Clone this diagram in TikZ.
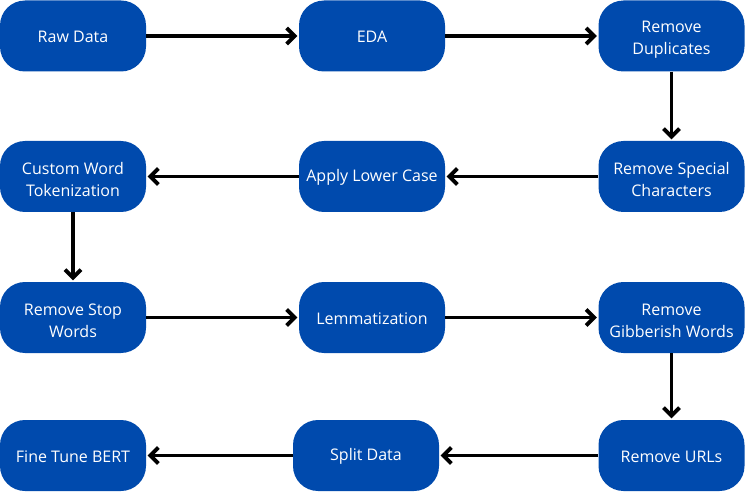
\documentclass[tikz,border=0pt]{standalone}
\usepackage{fontspec}
\setmainfont{Open Sans}
\usetikzlibrary{arrows.meta}
\definecolor{boxblue}{RGB}{0,74,173}
\newcommand\firstlinestrut{\rule{0pt}{19pt}}
\tikzset{
  stepbox/.style={draw=none, fill=boxblue, rounded corners=25pt, minimum width=146pt, minimum height=71pt,
    text=white, align=center, font=\fontsize{16pt}{22pt}\selectfont, inner sep=2pt,
    execute at begin node={\rule{0pt}{14pt}}},
  flow/.style={line width=3.8pt, draw=black, -{Straight Barb[length=8pt,width=16pt,line width=3.8pt]}, shorten >=1.5pt}
}
\begin{document}
\begin{tikzpicture}[x=1pt,y=-1pt]
\useasboundingbox (0,0) rectangle (745,492);
\node[stepbox] (raw) at (73,36) {Raw Data};
\node[stepbox] (eda) at (372,36) {EDA};
\node[stepbox] (dup) at (671.5,36) {\firstlinestrut Remove\\Duplicates};
\node[stepbox] (cust) at (73,176.5) {\firstlinestrut Custom Word\\Tokenization};
\node[stepbox] (lower) at (372,176.5) {Apply Lower Case};
\node[stepbox] (spec) at (671.5,176.5) {\firstlinestrut Remove Special\\Characters};
\node[stepbox] (stop) at (73,317.5) {\firstlinestrut Remove Stop\\Words};
\node[stepbox] (lemma) at (372,317.5) {Lemmatization};
\node[stepbox] (gib) at (671.5,317.5) {\firstlinestrut Remove\\Gibberish Words};
\node[stepbox] (bert) at (73,455.5) {Fine Tune BERT};
\node[stepbox] (split) at (366,455.5) {Split Data};
\node[stepbox] (urls) at (671.5,455.5) {Remove URLs};
\draw[flow] (raw) -- (eda);
\draw[flow] (eda) -- (dup);
\draw[flow] (dup) -- (spec);
\draw[flow] (spec) -- (lower);
\draw[flow] (lower) -- (cust);
\draw[flow] (cust) -- (stop);
\draw[flow] (stop) -- (lemma);
\draw[flow] (lemma) -- (gib);
\draw[flow] (gib) -- (urls);
\draw[flow] (urls) -- (split);
\draw[flow] (split) -- (bert);
\end{tikzpicture}
\end{document}
